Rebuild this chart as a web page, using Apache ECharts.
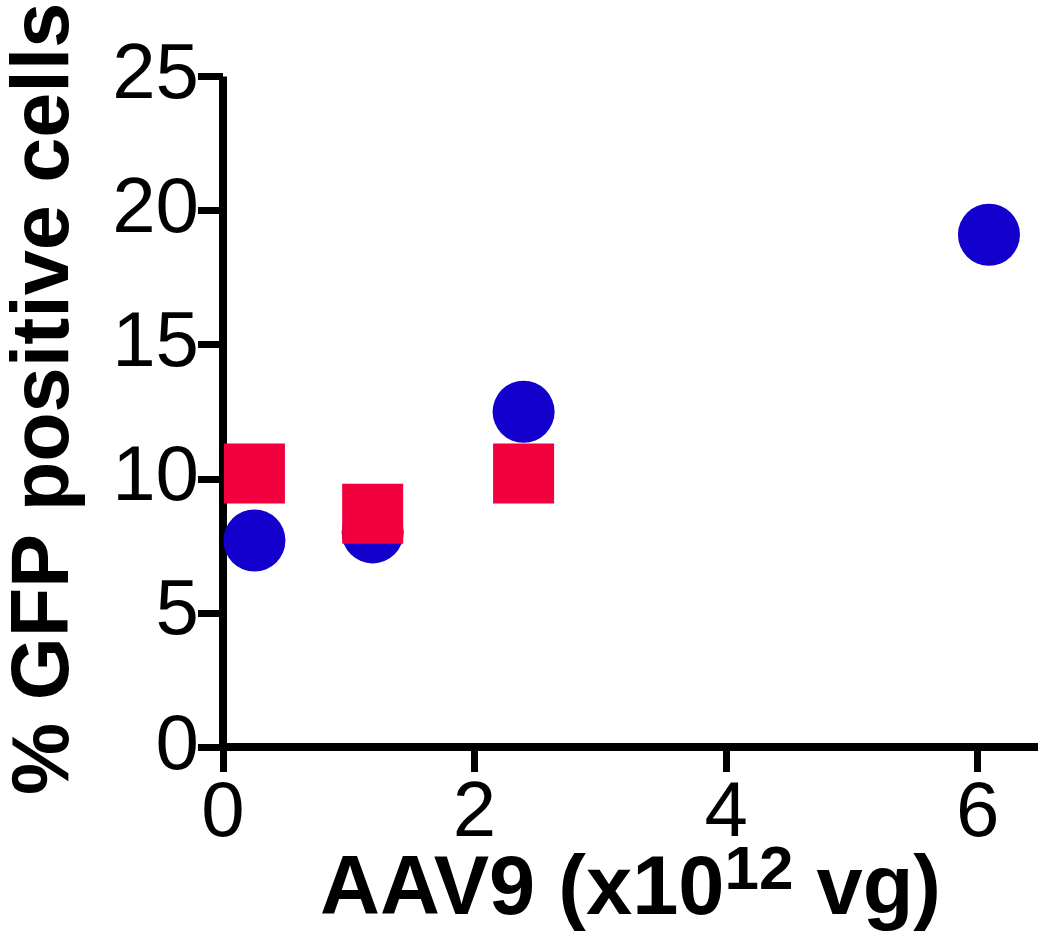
<!DOCTYPE html>
<html>
<head>
<meta charset="utf-8">
<script src="https://cdn.jsdelivr.net/npm/echarts@6/dist/echarts.min.js"></script>
<style>
html,body{margin:0;padding:0;background:#fff;}
#chart{width:1050px;height:945px;}
</style>
</head>
<body>
<div id="chart"></div>
<script>
// Data
const xTicks = [0, 2, 4, 6];
const yTicks = [0, 5, 10, 15, 20, 25];
const blueX = [0.25, 1.19, 2.39, 6.09];
const blueY = [7.7, 8.0, 12.5, 19.1];
const redX = [0.25, 1.19, 2.39];
const redY = [10.2, 8.7, 10.2];

const FONT = '"Liberation Sans", Arial, Helvetica, sans-serif';

const chart = echarts.init(document.getElementById('chart'), null, {renderer: 'canvas'});
const axisLine = {show: true, onZero: false, lineStyle: {color: '#000', width: 8, cap: 'butt'}};
const tickStyle = {color: '#000', width: 7};

chart.setOption({
  animation: false,
  backgroundColor: '#fff',
  grid: {left: 223, right: 12, top: 76.5, bottom: 198, containLabel: false, outerBoundsMode: 'none'},
  xAxis: {
    type: 'value',
    min: 0, max: 6.48, interval: 2,
    axisLine: axisLine,
    axisTick: {show: true, length: 25, lineStyle: tickStyle, customValues: xTicks},
    splitLine: {show: false},
    axisLabel: {
      fontFamily: FONT, fontSize: 78, color: '#000', margin: 28,
      customValues: xTicks,
      formatter: v => String(v)
    },
    name: '{m|AAV9 (x10}{s|12}{m| vg)}',
    nameLocation: 'middle',
    nameGap: 89,
    nameMoveOverlap: false,
    nameTextStyle: {
      rich: {
        m: {fontFamily: FONT, fontWeight: 'bold', fontSize: 83, color: '#000', lineHeight: 110, verticalAlign: 'middle'},
        s: {fontFamily: FONT, fontWeight: 'bold', fontSize: 62, color: '#000', verticalAlign: 'middle', padding: [0, 0, 38, 0]}
      }
    }
  },
  yAxis: {
    type: 'value',
    min: 0, max: 25, interval: 5,
    axisLine: axisLine,
    axisTick: {show: true, length: 25, lineStyle: tickStyle, customValues: yTicks},
    splitLine: {show: false},
    axisLabel: {
      fontFamily: FONT, fontSize: 78, color: '#000', margin: 24,
      customValues: yTicks,
      formatter: v => String(v)
    },
    name: '% GFP positive cells',
    nameLocation: 'middle',
    nameGap: 137,
    nameTextStyle: {
      fontFamily: FONT, fontWeight: 'bold', fontSize: 81, color: '#000',
      padding: [0, 0, 0, 26]
    }
  },
  series: [
    {
      type: 'scatter',
      name: 'blue',
      symbol: 'circle',
      symbolSize: 62,
      itemStyle: {color: '#1400CC', opacity: 1},
      data: blueX.map((x, i) => [x, blueY[i]]),
      z: 2
    },
    {
      type: 'scatter',
      name: 'red',
      symbol: 'rect',
      symbolSize: [61, 60],
      itemStyle: {color: '#F0003C', opacity: 1},
      data: redX.map((x, i) => [x, redY[i]]),
      z: 3
    }
  ]
});
</script>
</body>
</html>
